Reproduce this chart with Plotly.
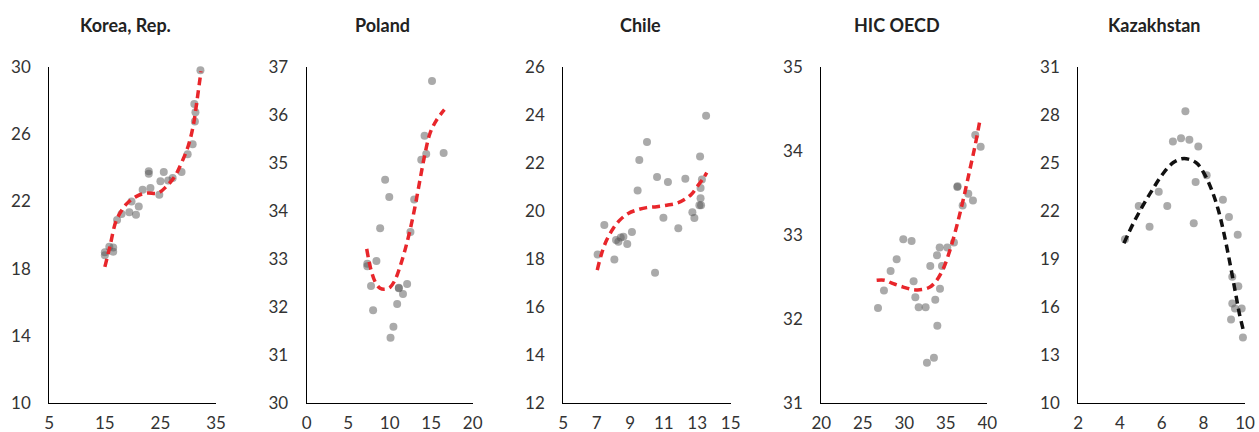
import plotly.graph_objects as go

W, H = 1259, 432

titles = ["Korea, Rep.", "Poland", "Chile", "HIC OECD", "Kazakhstan"]

# Scatter data (x, y) per panel
korea_x = [15.0, 15.0, 15.8, 16.5, 16.5, 17.2, 18.0, 19.4, 19.8, 20.6, 21.1, 21.8, 22.9, 22.9, 23.2, 24.8, 25.0, 25.6, 26.4, 27.2, 28.8, 29.9, 30.8, 31.2, 31.3, 31.1, 32.2]
korea_y = [18.97, 18.8, 19.3, 19.25, 19.0, 20.9, 21.25, 21.35, 22.0, 21.2, 21.7, 22.7, 23.8, 23.65, 22.8, 22.4, 23.2, 23.75, 23.25, 23.4, 23.75, 24.8, 25.4, 26.75, 27.3, 27.8, 29.8]
korea_fit_x = [15.0, 15.9, 17.1, 18.9, 20.7, 22.5, 24.6, 26.1, 27.6, 28.8, 30.0, 30.9, 31.6, 32.3]
korea_fit_y = [18.1, 19.3, 20.9, 21.85, 22.3, 22.5, 22.5, 22.9, 23.5, 24.3, 25.3, 26.5, 28.05, 29.75]

poland_x = [7.3, 7.3, 8.4, 7.75, 8.0, 8.85, 9.45, 9.95, 10.9, 10.45, 10.1, 11.1, 11.1, 11.6, 12.1, 12.5, 12.95, 13.8, 14.2, 14.4, 15.1, 16.5]
poland_y = [32.9, 32.85, 32.96, 32.44, 31.93, 33.64, 34.65, 34.29, 32.06, 31.59, 31.36, 32.39, 32.4, 32.27, 32.48, 33.56, 34.24, 35.07, 35.57, 35.19, 36.71, 35.21]
poland_fit_x = [7.23, 7.71, 8.23, 8.84, 9.44, 10.04, 10.64, 11.24, 11.85, 12.45, 13.05, 13.65, 14.26, 14.86, 15.66, 16.59]
poland_fit_y = [33.21, 32.8, 32.53, 32.39, 32.37, 32.41, 32.56, 32.84, 33.19, 33.6, 34.09, 34.65, 35.2, 35.62, 35.9, 36.11]

chile_x = [7.05, 7.45, 8.05, 8.15, 8.29, 8.59, 8.43, 8.82, 9.1, 9.44, 9.54, 10.0, 10.48, 10.6, 10.98, 11.25, 11.87, 12.29, 12.71, 12.83, 13.13, 13.23, 13.2, 13.2, 13.28, 13.17, 13.53]
chile_y = [18.19, 19.42, 17.98, 18.79, 18.72, 18.93, 18.9, 18.62, 19.13, 20.85, 22.13, 22.87, 17.43, 21.42, 19.72, 21.21, 19.28, 21.34, 19.95, 19.71, 20.24, 20.24, 20.53, 20.96, 21.31, 22.27, 23.97]
chile_fit_x = [7.03, 7.29, 7.59, 7.99, 8.39, 8.88, 9.38, 9.98, 10.58, 11.18, 11.77, 12.27, 12.67, 13.07, 13.37, 13.57]
chile_fit_y = [17.54, 18.23, 18.79, 19.28, 19.63, 19.9, 20.04, 20.14, 20.18, 20.24, 20.32, 20.49, 20.71, 21.09, 21.37, 21.6]

hic_x = [26.83, 27.55, 28.35, 29.08, 29.88, 30.88, 31.12, 31.33, 31.73, 32.57, 32.73, 33.13, 33.57, 33.73, 33.94, 33.98, 34.3, 34.26, 34.54, 35.18, 35.98, 36.39, 36.42, 37.03, 37.71, 38.27, 38.55, 39.2]
hic_y = [32.13, 32.34, 32.57, 32.71, 32.95, 32.93, 32.45, 32.26, 32.14, 32.14, 31.48, 32.63, 31.54, 32.23, 32.76, 31.92, 32.36, 32.85, 32.63, 32.85, 32.91, 33.57, 33.58, 33.35, 33.49, 33.41, 34.19, 34.05]
hic_fit_x = [26.67, 27.67, 28.67, 29.88, 31.08, 32.09, 33.09, 33.9, 34.7, 35.5, 36.3, 37.1, 37.9, 38.5, 39.12]
hic_fit_y = [32.46, 32.46, 32.42, 32.38, 32.35, 32.35, 32.38, 32.46, 32.6, 32.82, 33.1, 33.42, 33.78, 34.05, 34.37]

kaz_x = [4.24, 4.9, 5.42, 5.86, 6.27, 6.54, 6.93, 7.14, 7.33, 7.76, 7.54, 7.63, 8.16, 8.94, 9.23, 9.65, 9.39, 9.68, 9.39, 9.52, 9.84, 9.33, 9.9]
kaz_y = [20.23, 22.32, 21.02, 23.21, 22.32, 26.34, 26.55, 28.24, 26.45, 26.03, 21.23, 23.82, 24.24, 22.71, 21.63, 20.52, 17.89, 17.3, 16.22, 15.91, 15.91, 15.22, 14.09]
kaz_fit_x = [4.19, 4.64, 5.12, 5.6, 6.08, 6.56, 6.96, 7.28, 7.68, 8.03, 8.4, 8.72, 8.99, 9.28, 9.52, 9.73, 9.92]
kaz_fit_y = [19.98, 21.23, 22.38, 23.42, 24.36, 25.03, 25.26, 25.24, 24.99, 24.36, 23.32, 22.06, 20.6, 18.72, 17.05, 15.59, 14.55]

x_ranges = [[5, 35], [0, 20], [5, 15], [20, 40], [2, 10]]
x_dticks = [10, 5, 2, 5, 2]
y_ranges = [[10, 30], [30, 37], [12, 26], [31, 35], [10, 31]]
y_dticks = [4, 1, 2, 1, 3]

panels = [
    (korea_x, korea_y, korea_fit_x, korea_fit_y, "#e8262b"),
    (poland_x, poland_y, poland_fit_x, poland_fit_y, "#e8262b"),
    (chile_x, chile_y, chile_fit_x, chile_fit_y, "#e8262b"),
    (hic_x, hic_y, hic_fit_x, hic_fit_y, "#e8262b"),
    (kaz_x, kaz_y, kaz_fit_x, kaz_fit_y, "#111111"),
]

left_px = [49.3, 306.7, 563.3, 821.3, 1078.3]
right_px = [216.0, 472.7, 730.7, 987.3, 1245.0]
top_px, bot_px = 67, 403

fig = go.Figure()
layout = dict(
    width=W, height=H,
    margin=dict(l=0, r=0, t=0, b=0, autoexpand=False),
    paper_bgcolor="white", plot_bgcolor="white",
    showlegend=False,
    annotations=[],
)

font_family = "Lato, 'Open Sans', sans-serif"

for i, (sx, sy, fx, fy, lc) in enumerate(panels):
    n = "" if i == 0 else str(i + 1)
    xa, ya = "x" + n, "y" + n
    fig.add_trace(go.Scatter(
        x=sx, y=sy, mode="markers", xaxis=xa, yaxis=ya,
        marker=dict(size=8, color="rgba(85,85,85,0.5)", line=dict(width=0)),
        hoverinfo="skip", cliponaxis=False,
    ))
    fig.add_trace(go.Scatter(
        x=fx, y=fy, mode="lines", xaxis=xa, yaxis=ya,
        line=dict(color=lc, width=3.5, dash="8px,5px", shape="spline", smoothing=1.0),
        hoverinfo="skip", cliponaxis=False,
    ))
    axis_common = dict(
        showgrid=False, zeroline=False, showline=True, automargin=False,
        linecolor="#000000", linewidth=1.3,
        ticks="", tickfont=dict(family=font_family, size=17, color="#333333"),
    )
    layout["xaxis" + n] = dict(
        axis_common,
        domain=[left_px[i] / W, right_px[i] / W],
        range=x_ranges[i], tickmode="linear", tick0=x_ranges[i][0], dtick=x_dticks[i],
        anchor=ya, ticklabelstandoff=4,
    )
    layout["yaxis" + n] = dict(
        axis_common,
        domain=[(H - bot_px) / H, (H - top_px) / H],
        range=y_ranges[i], tickmode="linear", tick0=y_ranges[i][0], dtick=y_dticks[i],
        anchor=xa, ticklabelstandoff=14,
    )
    cx = (left_px[i] + right_px[i]) / 2 - 7
    layout["annotations"].append(dict(
        text="<b>" + titles[i] + "</b>", x=cx / W, y=1 - 25 / H,
        xref="paper", yref="paper", xanchor="center", yanchor="middle",
        showarrow=False, font=dict(family=font_family, size=18, color="#222222"),
    ))

fig.update_layout(**layout)
fig.write_html("out.html")
